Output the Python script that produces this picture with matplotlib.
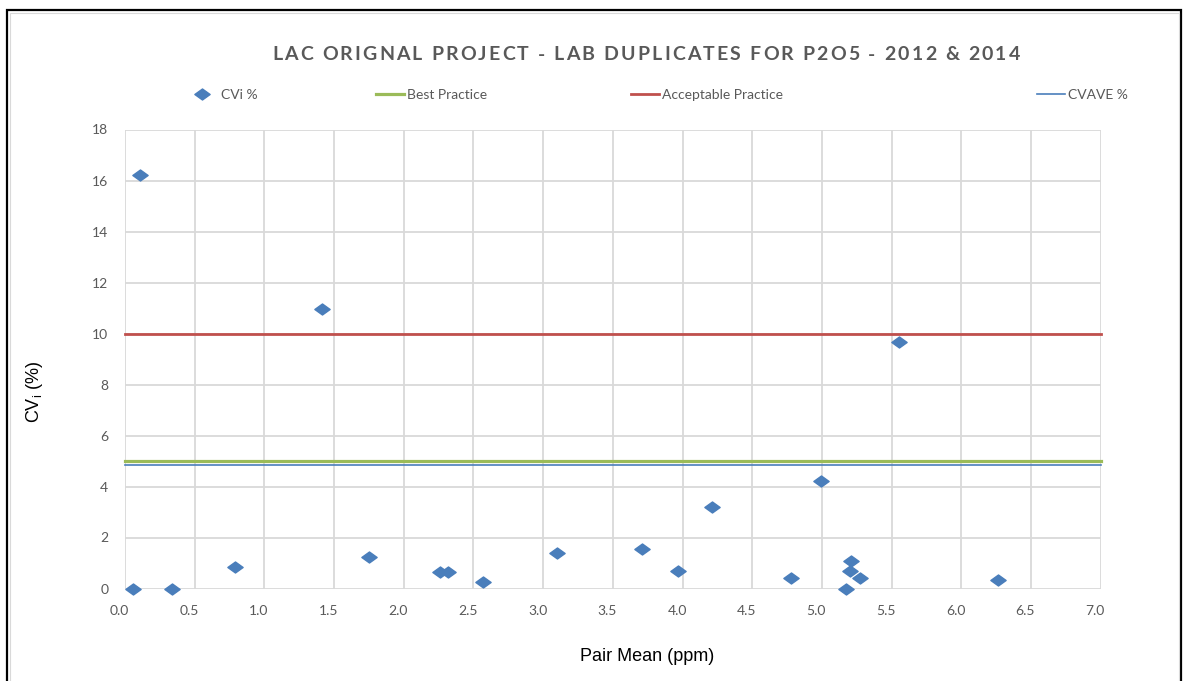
import numpy as np
import matplotlib
matplotlib.use('Agg')
import matplotlib.pyplot as plt
from matplotlib.path import Path
from matplotlib.lines import Line2D
from matplotlib.patches import Rectangle
from matplotlib.transforms import ScaledTranslation

# lab duplicate pairs: pair mean (ppm) and CVi (%)
pair_mean = [0.06, 0.11, 0.34, 0.79, 1.41, 1.75, 2.26, 2.32, 2.57, 3.10, 3.71,
             3.97, 4.21, 4.78, 4.99, 5.17, 5.20, 5.21, 5.27, 5.55, 6.26]
cvi = [0.0, 16.22, 0.0, 0.84, 10.96, 1.25, 0.63, 0.63, 0.25, 1.38, 1.54,
       0.70, 3.21, 0.40, 4.20, 0.0, 0.69, 1.09, 0.40, 9.68, 0.32]

best_practice = 5.0
acceptable_practice = 10.0
cv_ave = 4.84

x_ticks = np.arange(0, 7.01, 0.5)
y_ticks = np.arange(0, 18.01, 2)

title = 'LAC ORIGNAL PROJECT - LAB DUPLICATES FOR P2O5 - 2012 & 2014'
labels = ['CVi %', 'Best Practice', 'Acceptable Practice', 'CVAVE %']

blue = '#4A7EBB'
green = '#9BBB59'
red = '#C0504D'
grey_txt = '#595959'
grid_c = '#D9D9D9'

# flat excel-style diamond
diamond = Path([(0, 0.72), (1, 0), (0, -0.72), (-1, 0), (0, 0.72)],
               [Path.MOVETO, Path.LINETO, Path.LINETO, Path.LINETO, Path.CLOSEPOLY])

W, H = 1183, 681
fig = plt.figure(figsize=(W / 100, H / 100), dpi=100)
renderer = fig.canvas.get_renderer()

def fx(px):
    return px / W

def fy(py):
    return 1 - py / H

# page frame around the chart
fig.add_artist(Rectangle((fx(7), fy(H + 5)), fx(1181) - fx(7), fy(10) - fy(H + 5),
                         transform=fig.transFigure, fill=False, ec='black', lw=1.6))
fig.add_artist(Rectangle((fx(10), fy(H + 5)), fx(1179) - fx(10), fy(13) - fy(H + 5),
                         transform=fig.transFigure, fill=False, ec=grid_c, lw=0.8))

ax = fig.add_axes([fx(125), fy(588.5), fx(1100.7) - fx(125), fy(129.5) - fy(588.5)])
ax.set_xlim(0, 7)
ax.set_ylim(0, 18)
ax.set_xticks(x_ticks)
ax.set_yticks(y_ticks)
ax.set_xticklabels([f'{v:.1f}' for v in x_ticks], family='Lato', fontsize=10, color=grey_txt)
ax.set_yticklabels([f'{int(v)}' for v in y_ticks], family='Lato', fontsize=10, color=grey_txt)
ax.tick_params(length=0)
ax.tick_params(axis='x', pad=12)
ax.tick_params(axis='y', pad=12)
off = ScaledTranslation(-4 / 72, 0, fig.dpi_scale_trans)
for t in ax.get_xticklabels():
    t.set_transform(t.get_transform() + off)
for s in ax.spines.values():
    s.set_visible(False)
ax.grid(True, color=grid_c, lw=1.3, zorder=0)
ax.set_axisbelow(True)

ax.axhline(acceptable_practice, color=red, lw=2.0, zorder=2, clip_on=False)
ax.axhline(best_practice, color=green, lw=2.3, zorder=2, clip_on=False)
ax.axhline(cv_ave, color=blue, lw=1.2, zorder=2, clip_on=False)
ax.plot(pair_mean, cvi, ls='none', marker=diamond, ms=11, color=blue,
        mec=blue, zorder=3, clip_on=False)

ax.set_xlabel('Pair Mean (ppm)', family='Liberation Sans', fontsize=13)
ax.xaxis.set_label_coords((fx(647) - fx(125)) / (fx(1100.7) - fx(125)),
                          (fy(648) - fy(588.5)) / (fy(129.5) - fy(588.5)))
ax.set_ylabel('CV$_\\mathregular{i}$ (%)', family='Liberation Sans', fontsize=13)
ax.yaxis.set_label_coords((fx(45) - fx(125)) / (fx(1100.7) - fx(125)),
                          (fy(392) - fy(588.5)) / (fy(129.5) - fy(588.5)))

# spaced-out chart title, laid out one character at a time
title_kw = dict(family='Lato', fontweight='bold', fontsize=14, color=grey_txt, va='center')

def text_w(s):
    t = fig.text(0, 0, s, **title_kw)
    w = t.get_window_extent(renderer).width
    t.remove()
    return w

base = text_w('ii')
adv = [text_w('i' + ch + 'i') - base for ch in title]
title_left, title_right = 272, 1020
gap = (title_right - title_left - sum(adv)) / (len(title) - 1)
x = title_left
for ch, a in zip(title, adv):
    if ch != ' ':
        fig.text(fx(x), fy(55), ch, ha='left', **title_kw)
    x += a + gap

# legend entries laid out along one row
handles = [
    Line2D([], [], ls='none', marker=diamond, ms=11, color=blue),
    Line2D([], [], color=green, lw=2.3),
    Line2D([], [], color=red, lw=2.0),
    Line2D([], [], color=blue, lw=1.2),
]
starts = [195, 376, 631, 1037]
for h, lab, x0 in zip(handles, labels, starts):
    hl = 1.0 if h.get_marker() is diamond else 2.0
    leg = fig.legend([h], [lab], loc='center left', bbox_to_anchor=(fx(x0), fy(95)),
                     bbox_transform=fig.transFigure, frameon=False, borderpad=0,
                     borderaxespad=0, handlelength=hl, handletextpad=0.25 if hl == 2.0 else 0.9,
                     prop={'family': 'Lato', 'size': 10})
    for t in leg.get_texts():
        t.set_color(grey_txt)

fig.savefig('out.png', dpi=100)
